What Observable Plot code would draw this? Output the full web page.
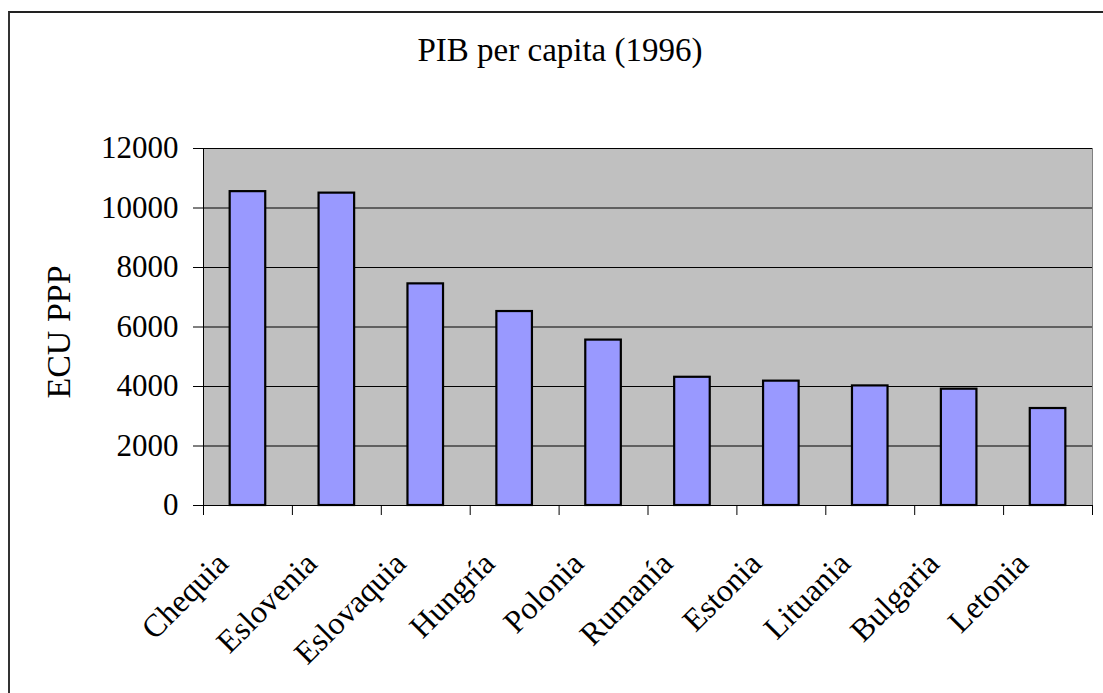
<!DOCTYPE html>
<html>
<head>
<meta charset="utf-8">
<script src="https://cdn.jsdelivr.net/npm/d3@7"></script>
<script src="https://cdn.jsdelivr.net/npm/@observablehq/plot@0.6"></script>
<style>
  html, body { margin: 0; padding: 0; background: #fff; overflow: hidden; }
  #wrap { position: relative; width: 1103px; height: 693px; overflow: hidden; background: #fff; }
  #border { position: absolute; left: 8px; top: 11px; width: 1200px; height: 800px;
            border-left: 2px solid #333; border-top: 2px solid #222; }
  #title { position: absolute; left: 0; top: 34px; width: 1120px; text-align: center;
           font-family: "Liberation Serif", "Times New Roman", serif; font-size: 33px; line-height: 33px; color: #000; }
  #chart { position: absolute; left: 0; top: 0; }
</style>
</head>
<body>
<div id="wrap">
  <div id="border"></div>
  <div id="chart"></div>
  <div id="title">PIB per capita (1996)</div>
</div>
<script>
const countries = ["Chequia", "Eslovenia", "Eslovaquia", "Hungría", "Polonia", "Rumanía", "Estonia", "Lituania", "Bulgaria", "Letonia"];
const values = [10550, 10500, 7450, 6520, 5560, 4310, 4180, 4020, 3910, 3260];
const yTicks = [0, 2000, 4000, 6000, 8000, 10000, 12000];
const yLabel = "ECU PPP";

const data = countries.map((c, i) => ({country: c, value: values[i]}));

const W = 1103, H = 693;
const mL = 203, mR = 11, mT = 148, mB = 188;
const step = (W - mL - mR) / countries.length;

const chart = Plot.plot({
  width: W,
  height: H,
  marginLeft: mL,
  marginRight: mR,
  marginTop: mT,
  marginBottom: mB,
  style: {fontFamily: "Liberation Serif, Times New Roman, serif", fontSize: "31px", background: "transparent", color: "#000"},
  x: {domain: countries, paddingInner: 0.6, paddingOuter: 0.3, round: false, axis: null},
  y: {domain: [0, 12000], axis: null},
  marks: [
    Plot.frame({fill: "#C0C0C0", stroke: "#808080"}),
    Plot.gridY(yTicks, {stroke: "#000", strokeOpacity: 1, strokeWidth: 1}),
    Plot.ruleX([countries[0]], {dx: -step / 2, stroke: "#000", strokeWidth: 1}),
    Plot.barY(data, {x: "country", y: "value", fill: "#9999FF", stroke: "#000", strokeWidth: 2.2}),
    Plot.ruleY([0], {stroke: "#000", strokeWidth: 1}),
    Plot.axisY({ticks: yTicks, tickSize: 10, tickPadding: 15, fontSize: 31, tickFormat: d => String(d), label: null, stroke: "#000"}),
    Plot.axisX({ticks: countries, tickSize: 10, dx: -step / 2, tickFormat: () => "", label: null, stroke: "#000"}),
    Plot.axisX({ticks: [countries[countries.length - 1]], tickSize: 10, dx: step / 2, tickFormat: () => "", label: null, stroke: "#000"}),
    Plot.text(countries, {x: d => d, text: d => d, frameAnchor: "bottom", rotate: -45, textAnchor: "end", lineAnchor: "bottom", dx: -18, dy: 60, fontSize: 32, fill: "#000"}),
    Plot.text([yLabel], {text: d => d, frameAnchor: "left", rotate: -90, lineAnchor: "middle", textAnchor: "middle", dx: -144, dy: 5, fontSize: 34, fill: "#000"})
  ]
});
document.getElementById("chart").appendChild(chart);
</script>
</body>
</html>
